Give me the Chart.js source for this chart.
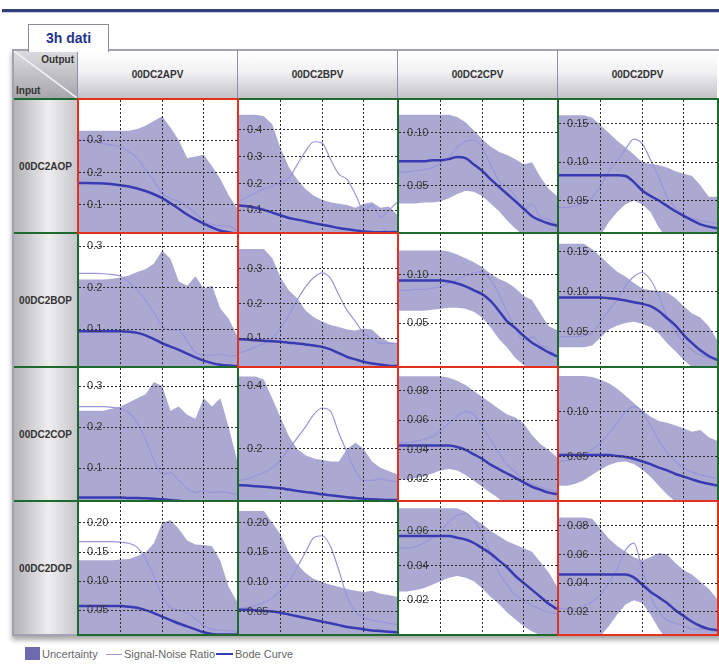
<!DOCTYPE html>
<html>
<head>
<meta charset="utf-8">
<script src="https://cdn.jsdelivr.net/npm/chart.js@4.4.1/dist/chart.umd.min.js"></script>
<style>
  body { margin: 0; width: 719px; height: 670px; overflow: hidden; background: #fff; position: relative;
         font-family: "Liberation Sans Narrow", "Liberation Sans", Arial, sans-serif; }
  .topbar { position: absolute; left: 2px; right: 0; top: 9px; height: 3px; background: #33407c; border-bottom: 1px solid #c9ccd9; }
  .tab { position: absolute; left: 28px; top: 24px; width: 79px; height: 27px; border: 1px solid #8d8d9c; border-bottom: none;
         background: #fff; color: #24338a; font-weight: bold; font-size: 14px; text-align: center; line-height: 27px; z-index: 3; }
  .frame { position: absolute; left: 12px; top: 49px; width: 730px; height: 587px; border: 2px solid #a2a2b4; box-sizing: border-box;
           box-shadow: 0 4px 5px rgba(0,0,0,0.35); }
  .corner { position: absolute; left: 14px; top: 51px; width: 63px; height: 47px; background: linear-gradient(#dcdce0, #a6a6ac); overflow: hidden; }
  .corner span { position: absolute; font-size: 10px; font-weight: bold; color: #333; }
  .colhead { position: absolute; top: 51px; height: 47px; width: 160px; border-left: 1px solid #8e8eaa; box-sizing: border-box;
             background: linear-gradient(#ffffff, #f1f1f3 45%, #c2c2c8); font-size: 10px; font-weight: bold; color: #333;
             display: flex; align-items: center; justify-content: center; }
  .rowhead { position: absolute; left: 14px; width: 63px; height: 134px; border-top: 2px solid #1e6a2c; box-sizing: border-box;
             background: linear-gradient(to right, #b2b2b7, #eeeef0 55%, #c8c8cc); font-size: 10px; font-weight: bold; color: #333;
             display: flex; align-items: center; justify-content: center; }
  .cell { position: absolute; width: 162px; height: 136px; border: 2px solid #1e6a2c; box-sizing: border-box; background: #fff; }
  .cell.diag { border-color: #e3311f; z-index: 2; }
  .cell div { position: relative; width: 158px; height: 132px; }
  .legend { position: absolute; top: 647px; font-size: 11px; color: #666; line-height: 14px; }
  .legend i { position: absolute; display: block; }
</style>
</head>
<body>
<div class="topbar"></div>
<div class="frame"></div>
<div class="tab">3h dati</div>
<div class="corner">
  <svg width="63" height="47" style="position:absolute;left:0;top:0"><line x1="0" y1="0" x2="63" y2="47" stroke="#f4f4f6" stroke-width="1.5"/></svg>
  <span style="right:3px;top:3px">Output</span>
  <span style="left:2px;bottom:2px">Input</span>
</div>
<div id="heads"></div>
<div id="grid"></div>
<div class="legend" style="left:25px"><i style="left:0;top:0;width:15px;height:13px;background:#6d6bae"></i><span style="margin-left:17px">Uncertainty</span></div>
<div class="legend" style="left:106px"><i style="left:0;top:7px;width:16px;height:1px;background:#9c9ad8"></i><span style="margin-left:18px">Signal-Noise Ratio</span></div>
<div class="legend" style="left:216px"><i style="left:0;top:6px;width:17px;height:2px;background:#3a3ab2"></i><span style="margin-left:19px">Bode Curve</span></div>

<script>
const inputs = ["00DC2AOP", "00DC2BOP", "00DC2COP", "00DC2DOP"];
const outputs = ["00DC2APV", "00DC2BPV", "00DC2CPV", "00DC2DPV"];
const X = [0, 0.2, 0.4, 0.6, 0.8, 1.0, 1.2, 1.4, 1.6, 1.8, 2.0, 2.2, 2.4, 2.6, 2.8, 3.0, 3.2, 3.4, 3.6, 3.8];

// row 00DC2AOP
const aopApvHi = [0.33, 0.33, 0.33, 0.33, 0.33, 0.33, 0.33, 0.335, 0.345, 0.36, 0.375, 0.34, 0.30, 0.245, 0.25, 0.255, 0.22, 0.18, 0.13, 0.09];
const aopApvSnr = [0.30, 0.30, 0.295, 0.29, 0.285, 0.28, 0.265, 0.245, 0.21, 0.175, 0.135, 0.12, 0.11, 0.095, 0.075, 0.05, 0.04, 0.035, 0.035, 0.02];
const aopApvBode = [0.168, 0.168, 0.167, 0.166, 0.164, 0.161, 0.157, 0.151, 0.143, 0.133, 0.121, 0.105, 0.088, 0.07, 0.055, 0.042, 0.03, 0.02, 0.015, 0.01];

const aopBpvHi = [0.455, 0.455, 0.455, 0.45, 0.42, 0.33, 0.26, 0.215, 0.18, 0.155, 0.14, 0.13, 0.125, 0.12, 0.11, 0.125, 0.13, 0.11, 0.115, 0.085];
const aopBpvSnr = [0.135, 0.15, 0.165, 0.18, 0.19, 0.205, 0.22, 0.27, 0.32, 0.355, 0.35, 0.29, 0.235, 0.215, 0.16, 0.1, 0.12, 0.075, 0.1, 0.13];
const aopBpvBode = [0.118, 0.116, 0.11, 0.102, 0.092, 0.082, 0.072, 0.066, 0.06, 0.053, 0.047, 0.041, 0.035, 0.03, 0.026, 0.022, 0.02, 0.019, 0.019, 0.019];

const aopCpvHi = [0.117, 0.117, 0.117, 0.117, 0.117, 0.117, 0.117, 0.115, 0.11, 0.102, 0.094, 0.087, 0.082, 0.079, 0.075, 0.07, 0.072, 0.058, 0.047, 0.04];
const aopCpvLo = [0.033, 0.033, 0.033, 0.034, 0.034, 0.035, 0.038, 0.042, 0.045, 0.044, 0.04, 0.033, 0.026, 0.017, 0.009, 0.003, 0, 0, 0, 0];
const aopCpvSnr = [0.063, 0.063, 0.064, 0.065, 0.067, 0.071, 0.077, 0.086, 0.092, 0.093, 0.086, 0.07, 0.055, 0.049, 0.04, 0.026, 0.033, 0.02, 0.018, 0.013];
const aopCpvBode = [0.073, 0.073, 0.073, 0.073, 0.074, 0.074, 0.075, 0.077, 0.076, 0.07, 0.064, 0.056, 0.049, 0.042, 0.035, 0.028, 0.021, 0.017, 0.014, 0.012];

const aopDpvHi = [0.161, 0.161, 0.161, 0.161, 0.158, 0.148, 0.138, 0.128, 0.119, 0.11, 0.1, 0.098, 0.096, 0.093, 0.088, 0.085, 0.082, 0.07, 0.055, 0.055];
const aopDpvLo = [0, 0, 0, 0, 0, 0.005, 0.022, 0.035, 0.045, 0.05, 0.045, 0.035, 0.015, 0, 0, 0, 0, 0, 0, 0];
const aopDpvSnr = [0.041, 0.041, 0.043, 0.047, 0.054, 0.069, 0.088, 0.102, 0.117, 0.13, 0.124, 0.103, 0.08, 0.055, 0.04, 0.032, 0.027, 0.024, 0.022, 0.02];
const aopDpvBode = [0.083, 0.083, 0.083, 0.083, 0.083, 0.083, 0.083, 0.083, 0.082, 0.074, 0.063, 0.056, 0.05, 0.043, 0.036, 0.03, 0.024, 0.019, 0.016, 0.014];

// row 00DC2BOP
const bopApvHi = [0.22, 0.22, 0.22, 0.22, 0.222, 0.225, 0.23, 0.238, 0.245, 0.258, 0.29, 0.27, 0.215, 0.205, 0.228, 0.198, 0.205, 0.15, 0.125, 0.085];
const bopApvSnr = [0.235, 0.235, 0.235, 0.234, 0.232, 0.228, 0.214, 0.195, 0.17, 0.14, 0.108, 0.098, 0.097, 0.072, 0.044, 0.037, 0.037, 0.04, 0.035, 0.037];
const bopApvBode = [0.095, 0.095, 0.095, 0.095, 0.095, 0.095, 0.094, 0.091, 0.085, 0.076, 0.066, 0.058, 0.05, 0.041, 0.032, 0.024, 0.018, 0.014, 0.012, 0.011];

const bopBpvHi = [0.357, 0.357, 0.357, 0.357, 0.33, 0.275, 0.237, 0.215, 0.18, 0.16, 0.148, 0.138, 0.132, 0.125, 0.122, 0.128, 0.125, 0.103, 0.09, 0.085];
const bopBpvSnr = [0.058, 0.065, 0.075, 0.085, 0.1, 0.13, 0.167, 0.21, 0.248, 0.275, 0.288, 0.272, 0.225, 0.18, 0.148, 0.115, 0.1, 0.085, 0.085, 0.085];
const bopBpvBode = [0.097, 0.096, 0.094, 0.093, 0.091, 0.09, 0.087, 0.085, 0.082, 0.079, 0.075, 0.068, 0.057, 0.046, 0.039, 0.032, 0.027, 0.024, 0.021, 0.02];

const bopCpvHi = [0.125, 0.125, 0.125, 0.125, 0.125, 0.125, 0.124, 0.121, 0.117, 0.113, 0.108, 0.101, 0.096, 0.092, 0.086, 0.078, 0.074, 0.06, 0.047, 0.043];
const bopCpvLo = [0.063, 0.063, 0.063, 0.063, 0.064, 0.065, 0.066, 0.066, 0.065, 0.062, 0.056, 0.046, 0.034, 0.025, 0.014, 0.007, 0, 0, 0, 0];
const bopCpvSnr = [0.084, 0.084, 0.085, 0.085, 0.086, 0.088, 0.091, 0.095, 0.099, 0.102, 0.103, 0.095, 0.08, 0.062, 0.044, 0.032, 0.036, 0.028, 0.024, 0.016];
const bopCpvBode = [0.094, 0.094, 0.094, 0.094, 0.094, 0.094, 0.093, 0.091, 0.088, 0.084, 0.08, 0.073, 0.063, 0.052, 0.045, 0.037, 0.03, 0.025, 0.02, 0.016];

const bopDpvHi = [0.16, 0.16, 0.16, 0.16, 0.153, 0.144, 0.134, 0.125, 0.119, 0.111, 0.104, 0.102, 0.101, 0.099, 0.092, 0.082, 0.073, 0.068, 0.057, 0.04];
const bopDpvLo = [0.031, 0.031, 0.031, 0.031, 0.033, 0.043, 0.053, 0.058, 0.061, 0.0625, 0.06, 0.056, 0.048, 0.036, 0.026, 0.015, 0.006, 0, 0, 0];
const bopDpvSnr = [0.044, 0.044, 0.044, 0.045, 0.049, 0.062, 0.077, 0.09, 0.107, 0.119, 0.124, 0.115, 0.095, 0.069, 0.05, 0.037, 0.027, 0.021, 0.018, 0.015];
const bopDpvBode = [0.093, 0.093, 0.093, 0.093, 0.093, 0.093, 0.092, 0.091, 0.089, 0.087, 0.085, 0.082, 0.076, 0.067, 0.058, 0.046, 0.036, 0.027, 0.02, 0.015];

// row 00DC2COP
const copApvHi = [0.24, 0.24, 0.24, 0.24, 0.245, 0.25, 0.26, 0.27, 0.28, 0.31, 0.3, 0.24, 0.25, 0.23, 0.22, 0.27, 0.25, 0.27, 0.2, 0.12];
const copApvSnr = [0.25, 0.25, 0.25, 0.25, 0.248, 0.245, 0.235, 0.21, 0.17, 0.12, 0.085, 0.088, 0.07, 0.05, 0.04, 0.045, 0.04, 0.042, 0.04, 0.035];
const copApvBode = [0.028, 0.028, 0.028, 0.028, 0.028, 0.028, 0.027, 0.027, 0.026, 0.025, 0.024, 0.022, 0.02, 0.018, 0.016, 0.014, 0.012, 0.01, 0.01, 0.01];

const copBpvHi = [0.43, 0.43, 0.43, 0.42, 0.36, 0.3, 0.24, 0.2, 0.18, 0.17, 0.165, 0.16, 0.16, 0.2, 0.22, 0.2, 0.16, 0.14, 0.13, 0.12];
const copBpvSnr = [0.1, 0.105, 0.115, 0.125, 0.14, 0.165, 0.2, 0.235, 0.27, 0.31, 0.33, 0.32, 0.25, 0.19, 0.13, 0.1, 0.1, 0.105, 0.1, 0.095];
const copBpvBode = [0.085, 0.084, 0.082, 0.08, 0.078, 0.075, 0.071, 0.067, 0.063, 0.06, 0.056, 0.053, 0.05, 0.047, 0.044, 0.042, 0.04, 0.039, 0.038, 0.038];

const copCpvHi = [0.09, 0.09, 0.09, 0.09, 0.09, 0.09, 0.089, 0.087, 0.084, 0.08, 0.076, 0.072, 0.068, 0.064, 0.062, 0.058, 0.05, 0.044, 0.04, 0.035];
const copCpvLo = [0.02, 0.02, 0.021, 0.022, 0.024, 0.026, 0.027, 0.026, 0.023, 0.019, 0.015, 0.011, 0.007, 0, 0, 0, 0, 0, 0, 0];
const copCpvSnr = [0.045, 0.045, 0.046, 0.047, 0.049, 0.053, 0.058, 0.063, 0.066, 0.064, 0.056, 0.047, 0.038, 0.03, 0.025, 0.02, 0.017, 0.015, 0.013, 0.012];
const copCpvBode = [0.043, 0.043, 0.043, 0.043, 0.043, 0.043, 0.043, 0.042, 0.04, 0.037, 0.034, 0.03, 0.027, 0.024, 0.021, 0.018, 0.015, 0.013, 0.011, 0.01];

const copDpvHi = [0.14, 0.14, 0.14, 0.14, 0.139, 0.136, 0.132, 0.126, 0.118, 0.11, 0.102, 0.095, 0.09, 0.088, 0.085, 0.082, 0.078, 0.08, 0.072, 0.068];
const copDpvLo = [0.018, 0.018, 0.02, 0.024, 0.03, 0.036, 0.041, 0.044, 0.045, 0.042, 0.036, 0.028, 0.018, 0.008, 0, 0, 0, 0, 0, 0];
const copDpvSnr = [0.045, 0.046, 0.048, 0.052, 0.058, 0.066, 0.076, 0.088, 0.1, 0.106, 0.1, 0.085, 0.068, 0.055, 0.045, 0.038, 0.033, 0.03, 0.028, 0.026];
const copDpvBode = [0.052, 0.052, 0.052, 0.052, 0.052, 0.052, 0.052, 0.051, 0.05, 0.048, 0.045, 0.042, 0.038, 0.035, 0.031, 0.028, 0.025, 0.022, 0.02, 0.018];

// row 00DC2DOP
const dopApvHi = [0.136, 0.136, 0.136, 0.136, 0.136, 0.137, 0.138, 0.143, 0.149, 0.165, 0.2, 0.205, 0.19, 0.17, 0.163, 0.162, 0.16, 0.135, 0.09, 0.065];
const dopApvSnr = [0.168, 0.168, 0.168, 0.168, 0.168, 0.167, 0.165, 0.158, 0.139, 0.108, 0.075, 0.054, 0.05, 0.045, 0.035, 0.023, 0.017, 0.016, 0.015, 0.013];
const dopApvBode = [0.057, 0.057, 0.057, 0.057, 0.057, 0.057, 0.056, 0.054, 0.05, 0.045, 0.039, 0.033, 0.027, 0.022, 0.017, 0.012, 0.009, 0.008, 0.008, 0.008];

const dopBpvHi = [0.22, 0.22, 0.22, 0.22, 0.2, 0.18, 0.15, 0.13, 0.115, 0.105, 0.1, 0.095, 0.092, 0.088, 0.085, 0.083, 0.085, 0.08, 0.078, 0.075];
const dopBpvSnr = [0.055, 0.057, 0.06, 0.065, 0.073, 0.085, 0.1, 0.125, 0.15, 0.175, 0.178, 0.16, 0.12, 0.075, 0.05, 0.04, 0.035, 0.033, 0.03, 0.028];
const dopBpvBode = [0.053, 0.053, 0.052, 0.051, 0.05, 0.048, 0.045, 0.042, 0.039, 0.036, 0.033, 0.03, 0.027, 0.024, 0.022, 0.02, 0.018, 0.017, 0.016, 0.015];

const dopCpvHi = [0.073, 0.073, 0.073, 0.073, 0.073, 0.073, 0.073, 0.073, 0.071, 0.067, 0.064, 0.06, 0.057, 0.054, 0.052, 0.05, 0.048, 0.042, 0.036, 0.028];
const dopCpvLo = [0.025, 0.025, 0.026, 0.027, 0.029, 0.031, 0.033, 0.034, 0.033, 0.031, 0.027, 0.022, 0.018, 0.013, 0.009, 0.005, 0.002, 0, 0, 0];
const dopCpvSnr = [0.05, 0.05, 0.051, 0.053, 0.056, 0.06, 0.065, 0.069, 0.07, 0.066, 0.058, 0.047, 0.036, 0.029, 0.023, 0.02, 0.017, 0.015, 0.013, 0.012];
const dopCpvBode = [0.057, 0.057, 0.057, 0.057, 0.057, 0.057, 0.057, 0.056, 0.055, 0.053, 0.05, 0.047, 0.043, 0.039, 0.034, 0.03, 0.026, 0.022, 0.018, 0.015];

const dopDpvHi = [0.0858, 0.0858, 0.0858, 0.0858, 0.085, 0.078, 0.071, 0.066, 0.062, 0.058, 0.056, 0.058, 0.061, 0.06, 0.054, 0.049, 0.046, 0.041, 0.036, 0.029];
const dopDpvLo = [0, 0, 0, 0, 0, 0.003, 0.01, 0.018, 0.025, 0.028, 0.026, 0.018, 0.008, 0, 0, 0, 0, 0, 0, 0];
const dopDpvSnr = [0.022, 0.022, 0.022, 0.024, 0.027, 0.032, 0.04, 0.05, 0.063, 0.068, 0.05, 0.031, 0.02, 0.014, 0.012, 0.01, 0.008, 0.008, 0.007, 0.0065];
const dopDpvBode = [0.046, 0.046, 0.046, 0.046, 0.046, 0.046, 0.046, 0.046, 0.046, 0.044, 0.039, 0.034, 0.03, 0.026, 0.021, 0.017, 0.013, 0.01, 0.008, 0.007];

// y axis: [min, max], labelled ticks, decimals (row-major)
const yRanges = [
  [0.016, 0.425], [0.02, 0.51], [0.006, 0.131], [0.009, 0.181],
  [0.011, 0.33], [0.02, 0.40], [0.006, 0.142], [0.0075, 0.172],
  [0.022, 0.344], [0.038, 0.457], [0.006, 0.0956], [0.002, 0.149],
  [0.009, 0.236], [0.012, 0.235], [0.0006, 0.0766], [0.0044, 0.0967],
];
const yTicks = [
  [0.1, 0.2, 0.3], [0.1, 0.2, 0.3, 0.4], [0.05, 0.1], [0.05, 0.1, 0.15],
  [0.1, 0.2, 0.3], [0.1, 0.2, 0.3], [0.05, 0.1], [0.05, 0.1, 0.15],
  [0.1, 0.2, 0.3], [0.2, 0.4], [0.02, 0.04, 0.06, 0.08], [0.05, 0.1],
  [0.05, 0.1, 0.15, 0.2], [0.05, 0.1, 0.15, 0.2], [0.02, 0.04, 0.06], [0.02, 0.04, 0.06, 0.08],
];
const yDecimals = [1, 1, 2, 2, 1, 1, 2, 2, 1, 1, 2, 2, 2, 2, 2, 2];

const cells = [
  { hi: aopApvHi, lo: null, snr: aopApvSnr, bode: aopApvBode },
  { hi: aopBpvHi, lo: null, snr: aopBpvSnr, bode: aopBpvBode },
  { hi: aopCpvHi, lo: aopCpvLo, snr: aopCpvSnr, bode: aopCpvBode },
  { hi: aopDpvHi, lo: aopDpvLo, snr: aopDpvSnr, bode: aopDpvBode },
  { hi: bopApvHi, lo: null, snr: bopApvSnr, bode: bopApvBode },
  { hi: bopBpvHi, lo: null, snr: bopBpvSnr, bode: bopBpvBode },
  { hi: bopCpvHi, lo: bopCpvLo, snr: bopCpvSnr, bode: bopCpvBode },
  { hi: bopDpvHi, lo: bopDpvLo, snr: bopDpvSnr, bode: bopDpvBode },
  { hi: copApvHi, lo: null, snr: copApvSnr, bode: copApvBode },
  { hi: copBpvHi, lo: null, snr: copBpvSnr, bode: copBpvBode },
  { hi: copCpvHi, lo: copCpvLo, snr: copCpvSnr, bode: copCpvBode },
  { hi: copDpvHi, lo: copDpvLo, snr: copDpvSnr, bode: copDpvBode },
  { hi: dopApvHi, lo: null, snr: dopApvSnr, bode: dopApvBode },
  { hi: dopBpvHi, lo: null, snr: dopBpvSnr, bode: dopBpvBode },
  { hi: dopCpvHi, lo: dopCpvLo, snr: dopCpvSnr, bode: dopCpvBode },
  { hi: dopDpvHi, lo: dopDpvLo, snr: dopDpvSnr, bode: dopDpvBode },
];

const BAND = "#aba9d1";
const SNR = "#9896d8";
const BODE = "#3a3ab2";
const COL_LEFT = 77, COL_W = 160, ROW_TOP = 98, ROW_H = 134;

const heads = document.getElementById("heads");
outputs.forEach((name, c) => {
  const el = document.createElement("div");
  el.className = "colhead";
  el.style.left = (COL_LEFT + c * COL_W) + "px";
  el.textContent = name;
  heads.appendChild(el);
});
inputs.forEach((name, r) => {
  const el = document.createElement("div");
  el.className = "rowhead";
  el.style.top = (ROW_TOP + r * ROW_H) + "px";
  el.textContent = name;
  heads.appendChild(el);
});

const pts = (arr) => arr.map((y, i) => ({ x: X[i], y }));

// axes take no room: labels sit inside the plot, grid over the band
const noRoom = (scale) => {
  if (scale.isHorizontal()) scale.height = 0; else scale.width = 0;
  scale.paddingTop = 0;
  scale.paddingBottom = 0;
  scale.paddingLeft = 0;
  scale.paddingRight = 0;
};

function makeCell(r, c) {
  const idx = r * 4 + c;
  const cell = cells[idx];
  const box = document.createElement("div");
  box.className = "cell" + (r === c ? " diag" : "");
  box.style.left = (COL_LEFT + c * COL_W) + "px";
  box.style.top = (ROW_TOP + r * ROW_H) + "px";
  const wrap = document.createElement("div");
  const canvas = document.createElement("canvas");
  wrap.appendChild(canvas);
  box.appendChild(wrap);
  document.getElementById("grid").appendChild(box);

  // first dataset is drawn on top
  const datasets = [
    { data: pts(cell.bode), borderColor: BODE, borderWidth: 2.5, pointRadius: 0, fill: false, cubicInterpolationMode: "monotone" },
    { data: pts(cell.snr), borderColor: SNR, borderWidth: 1.2, pointRadius: 0, fill: false, cubicInterpolationMode: "monotone" },
  ];
  if (cell.lo) {
    datasets.push({ data: pts(cell.lo), borderWidth: 0, pointRadius: 0, fill: false });
    datasets.push({ data: pts(cell.hi), borderWidth: 0, pointRadius: 0, backgroundColor: BAND, fill: "-1" });
  } else {
    datasets.push({ data: pts(cell.hi), borderWidth: 0, pointRadius: 0, backgroundColor: BAND, fill: "start" });
  }

  new Chart(canvas.getContext("2d"), {
    type: "line",
    data: { datasets },
    options: {
      responsive: true,
      maintainAspectRatio: false,
      animation: false,
      layout: { padding: 0 },
      plugins: { legend: { display: false }, tooltip: { enabled: false } },
      scales: {
        x: {
          type: "linear",
          min: 0,
          max: 3.8,
          afterBuildTicks: (scale) => { scale.ticks = [1, 2, 3].map((v) => ({ value: v })); },
          afterFit: noRoom,
          ticks: { display: false },
          grid: { color: "#2b2b2b", lineWidth: 1, drawTicks: false, z: 1 },
          border: { display: false, dash: [2, 2] },
        },
        y: {
          min: yRanges[idx][0],
          max: yRanges[idx][1],
          afterBuildTicks: (scale) => { scale.ticks = yTicks[idx].map((v) => ({ value: v })); },
          afterFit: noRoom,
          ticks: {
            mirror: true,
            padding: 8,
            z: 2,
            color: "#3a3a3a",
            font: { family: "'Liberation Sans Narrow', 'Liberation Sans', Arial", size: 11 },
            callback: (value) => Number(value).toFixed(yDecimals[idx]),
          },
          grid: { color: "#2b2b2b", lineWidth: 1, drawTicks: false, z: 1 },
          border: { display: false, dash: [2, 2] },
        },
      },
    },
  });
}

for (let r = 0; r < 4; r++) {
  for (let c = 0; c < 4; c++) makeCell(r, c);
}
</script>
</body>
</html>
